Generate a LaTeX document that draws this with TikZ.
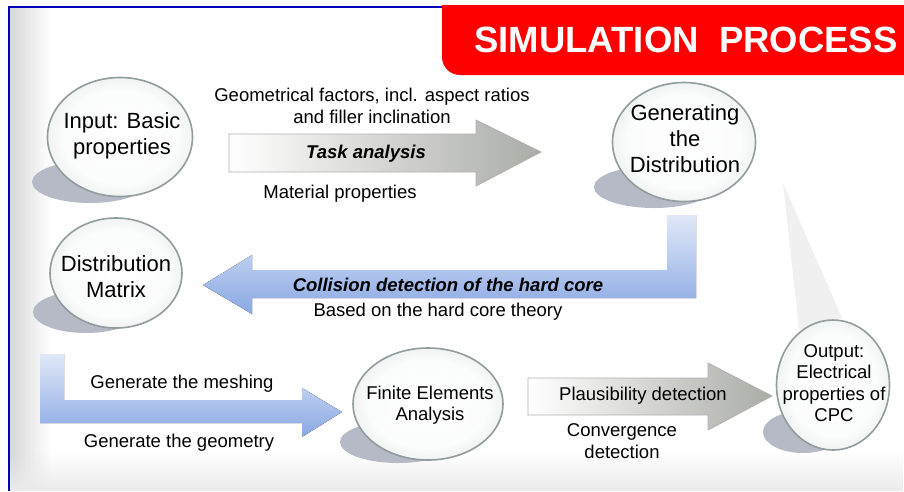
\documentclass[tikz,border=0pt]{standalone}
\usepackage{fontspec}
\setmainfont{Liberation Sans}
\usetikzlibrary{shapes.geometric,fadings}

\definecolor{titlered}{RGB}{255,0,0}
\definecolor{framebl}{RGB}{0,0,185}
\definecolor{shadowgr}{RGB}{182,186,198}
\definecolor{bubbleedge}{RGB}{145,156,156}
\definecolor{bubblegr}{RGB}{210,220,218}
\definecolor{bubblelt}{RGB}{236,241,240}
\definecolor{arrowgr}{RGB}{170,172,166}
\definecolor{arrowbl}{RGB}{138,168,228}
\definecolor{arrowbllt}{RGB}{224,232,247}
\definecolor{wedgegr}{RGB}{240,240,240}

\pgfdeclareradialshading{bubbleshade}{\pgfpoint{0bp}{0bp}}{color(0bp)=(white);
  color(20bp)=(white!90!bubblegr); color(40bp)=(bubblegr); color(45bp)=(bubblelt);
  color(50bp)=(bubblegr)}

\tikzset{
  bubble/.style={ellipse, draw=bubbleedge, line width=1.6pt, shading=bubbleshade,
    inner sep=0pt},
  bigtext/.style={font=\fontsize{22}{26}\selectfont, align=center, inner sep=0pt},
  lbl/.style={font=\fontsize{18.5}{21.5}\selectfont, align=center, inner sep=0pt},
  boldlbl/.style={lbl, font=\fontsize{18.5}{21.5}\selectfont\bfseries\itshape},
  grayarrow/.style={draw=gray!60, line width=0.8pt, left color=white, right color=arrowgr},
  bluearrow/.style={top color=arrowbllt, bottom color=arrowbl}
}

\begin{document}
\begin{tikzpicture}[x=1pt,y=-1pt]
  \useasboundingbox (0,0) rectangle (904,491);
  % slide background
  \fill[white] (0,0) rectangle (904,491);
  \fill[gray!32, path fading=east] (9,7) rectangle (50,491);
  \fill[gray!16, path fading=north] (9,452) rectangle (904,491);
  \draw[framebl, line width=2.5pt] (9,491) -- (9,7) -- (442,7);
  \fill[titlered] (442,5) -- (904,5) -- (904,75) -- (460,75)
    arc[start angle=270, end angle=180, radius=18pt] -- cycle;
  \node[text=white, font=\fontsize{36.5}{40}\selectfont\bfseries] (title) at (686,40)
    {SIMULATION\ \ PROCESS};

  \fill[wedgegr] (783,183) -- (842,318) -- (799,330) -- cycle;

  % shadows
  \foreach \cx/\cy/\rx in {90/182/58, 654/187/60, 86/312/53, 398/442/58, 803/432/40}
    \fill[shadowgr] (\cx,\cy) ellipse [x radius=\rx pt, y radius=21pt];

  \node[bubble, minimum width=145, minimum height=119] (input) at (120,137) {};
  \node[bubble, minimum width=143, minimum height=119] (gen) at (684,142) {};
  \node[bubble, minimum width=132, minimum height=110] (matrix) at (116,273) {};
  \node[bubble, minimum width=150, minimum height=112] (fea) at (428,404) {};
  \node[bubble, minimum width=113, minimum height=130] (output) at (833,385) {};

  \node[bigtext] (input-t) at (122,136) {Input: Basic\\properties};
  \node[bigtext] (gen-t) at (685,139) {Generating\\the\\Distribution};
  \node[bigtext] (matrix-t) at (116,277) {Distribution\\Matrix};
  \node[lbl] (fea-t) at (430,405) {Finite Elements\\Analysis};
  \node[lbl] (output-t) at (834,383) {Output:\\Electrical\\properties of\\CPC};

  % arrows
  \draw[grayarrow] (229,134) -- (476,134) -- (476,120) -- (541,152) -- (476,186)
    -- (476,172) -- (229,172) -- cycle;
  \draw[grayarrow] (528,378) -- (708,378) -- (708,363) -- (772,396) -- (708,430)
    -- (708,415) -- (528,415) -- cycle;
  \fill[bluearrow] (667,215) -- (696,215) -- (696,298) -- (252,298) -- (252,314)
    -- (203,285) -- (252,255) -- (252,270) -- (667,270) -- cycle;
  \fill[bluearrow] (40,354) -- (64,354) -- (64,400) -- (302,400) -- (302,388)
    -- (342,412) -- (302,437) -- (302,423) -- (40,423) -- cycle;

  % labels
  \node[lbl] (geom) at (372,106) {Geometrical factors, incl. aspect ratios\\and filler inclination};
  \node[boldlbl] (task) at (366,154) {Task analysis};
  \node[lbl] (material) at (340,194) {Material properties};
  \node[boldlbl] (collision) at (448,285) {Collision detection of the hard core};
  \node[lbl] (hardcore) at (438,312) {Based on the hard core theory};
  \node[lbl] (meshing) at (182,384) {Generate the meshing};
  \node[lbl] (geometry) at (179,443) {Generate the geometry};
  \node[lbl] (plaus) at (643,396) {Plausibility detection};
  \node[lbl] (conv) at (622,441) {Convergence\\detection};
\end{tikzpicture}
\end{document}
